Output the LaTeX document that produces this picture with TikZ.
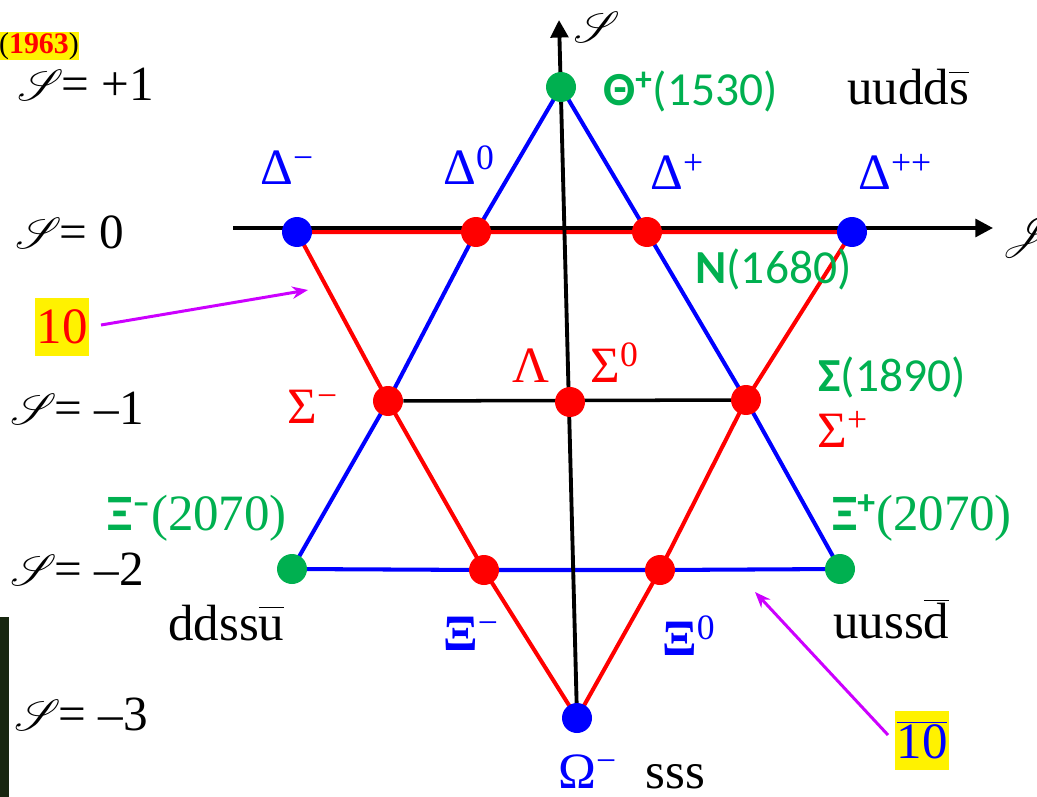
\documentclass[tikz,border=0pt]{standalone}
\usepackage{fontspec}
\setmainfont{Liberation Serif}
\newfontfamily\sansf{Carlito}
\usepackage{mathrsfs}
\usetikzlibrary{arrows.meta,backgrounds}
\definecolor{pgreen}{RGB}{0,176,80}
\definecolor{pmag}{RGB}{204,0,255}
\definecolor{stripc}{RGB}{24,38,16}
\newcommand\curS{\ensuremath{\mathscr{S}}\kern-1pt}
\newcommand\curJ{\ensuremath{\mathscr{J}_{z}}}
\newcommand\obar[1]{\ensuremath{\overline{\vphantom{d}\mbox{#1}}}}
\begin{document}
\begin{tikzpicture}[x=0.02cm,y=-0.02cm,
  every node/.style={inner sep=0pt},
  big/.style={font=\fontsize{29}{32}\selectfont},
  slab/.style={font=\fontsize{28}{32}\selectfont},
  gsans/.style={font=\sansf\fontsize{27}{30}\selectfont, text=pgreen},
  gmix/.style={font=\fontsize{29}{32}\selectfont, text=pgreen},
  dotR/.style={circle, fill=red, minimum size=0.6cm},
  dotB/.style={circle, fill=blue, minimum size=0.6cm},
  dotG/.style={circle, fill=pgreen, minimum size=0.6cm},
  bl/.style={blue, line width=2.3pt, line join=round},
  rd/.style={red, line width=2.3pt, line join=round},
  ax/.style={black, line width=2.2pt},
  axarrow/.style={ax, -{Triangle[length=10pt,width=10pt]}},
  mag/.style={pmag, line width=1.7pt, -{Stealth[length=9pt,width=7pt]}},
  ybox/.style={fill=yellow, minimum width=1.08cm, minimum height=1.18cm}
]
\useasboundingbox (0,0) rectangle (1037,797);
\fill[stripc] (0,617) rectangle (9,797);

% dots
\node[dotG] (th) at (561,87) {};
\node[dotB] (dm) at (297,232) {};
\node[dotR] (d0) at (476,232) {};
\node[dotR] (dp) at (647,232) {};
\node[dotB] (dpp) at (852,232) {};
\node[dotR] (sm) at (388,401) {};
\node[dotR] (l0) at (570,402) {};
\node[dotR] (sp) at (746,400) {};
\node[dotG] (xmg) at (292,569) {};
\node[dotR] (xm) at (484,570) {};
\node[dotR] (x0) at (660,570) {};
\node[dotG] (xpg) at (840,569) {};
\node[dotB] (om) at (577,718) {};

\coordinate (hl) at (233,228);
\coordinate (hr) at (993,228);
\coordinate (vt) at (559,20);

\begin{pgfonlayer}{background}
\draw[bl] (th.center) -- (d0.center) -- (sm.center) -- (xmg.center) -- (xm.center)
  -- (x0.center) -- (xpg.center) -- (sp.center) -- (dp.center) -- cycle;
\draw[rd] (dm.center) -- (d0.center) -- (dp.center) -- (dpp.center) -- (sp.center)
  -- (x0.center) -- (om.center) -- (xm.center) -- (sm.center) -- cycle;
\draw[axarrow] (hl) -- (hr);
\draw[axarrow] (om.center) -- (vt);
\draw[ax, line width=2pt] (sm) -- (sp.center);
\end{pgfonlayer}

% axis labels
\node[big] (slab) at (596,27) {\curS};
\node[big, anchor=base west] (jlab) at (1001,245) {\curJ};

% strangeness labels
\node[slab, anchor=base west] (s1) at (17,101) {\curS= +1};
\node[slab, anchor=base west] (s0) at (15,248) {\curS= 0};
\node[slab, anchor=base west] (sm1) at (10,424) {\curS= –1};
\node[slab, anchor=base west] (sm2) at (10,585) {\curS= –2};
\node[slab, anchor=base west] (sm3) at (14,730) {\curS= –3};

% year
\node[fill=yellow, minimum width=1.56cm, minimum height=0.56cm,
  font=\fontsize{17}{18}\selectfont] (yr) at (39,46) {(\textcolor{red}{\textbf{1963}})};

% green exotic labels
\node[gsans, anchor=base west] (thl) at (603,106) {\textbf{Θ}\textsuperscript{\textbf{+}}(1530)};
\node[gsans, anchor=base west] (nl) at (695,283) {\textbf{N}(1680)};
\node[gsans, anchor=base west] (s18) at (818,391) {\textbf{Σ}(1890)};
\node[gmix, anchor=base west] (xpl) at (832,530) {{\sansf\bfseries Ξ\textsuperscript{+}}(2070)};
\node[gmix, anchor=base west] (xml) at (107,530) {{\sansf\bfseries Ξ\textsuperscript{–}}(2070)};

% quark contents
\node[big, anchor=base west] (q1) at (847,105) {uudd\obar{s}};
\node[big, anchor=base west] (q2) at (168,640) {ddss\obar{u}};
\node[big, anchor=base west] (q3) at (833,638) {uuss\obar{d}};
\node[big, anchor=base west] (q4) at (645,788) {sss};

% decuplet / antidecuplet labels
\node[big, text=blue, anchor=base west] (ldm) at (260,185) {Δ\textsuperscript{−}};
\node[big, text=blue, anchor=base west] (ld0) at (443,185) {Δ\textsuperscript{0}};
\node[big, text=blue, anchor=base west] (ldp) at (650,190) {Δ\textsuperscript{+}};
\node[big, text=blue, anchor=base west] (ldpp) at (858,190) {Δ\textsuperscript{++}};
\node[big, text=red, anchor=base west] (lsm) at (287,423) {Σ\textsuperscript{−}};
\node[big, text=red, anchor=base west] (lla) at (512,382) {Λ};
\node[big, text=red, anchor=base west] (ls0) at (590,382) {Σ\textsuperscript{0}};
\node[big, text=red, anchor=base west] (lsp) at (817,447) {Σ\textsuperscript{+}};
\node[big, text=blue, anchor=base west] (lxm) at (443,650) {\textbf{Ξ}\textsuperscript{−}};
\node[big, text=blue, anchor=base west] (lx0) at (662,655) {\textbf{Ξ}\textsuperscript{0}};
\node[big, text=blue, anchor=base west] (lom) at (558,788) {Ω\textsuperscript{−}};

% multiplet boxes and arrows
\node[ybox, big, text=red] (ten) at (62,327) {10};
\node[ybox, big, text=blue] (tenb) at (922,740) {\obar{10}};
\coordinate (a1s) at (101,325);
\coordinate (a1e) at (308,290);
\coordinate (a2s) at (888,735);
\coordinate (a2e) at (755,592);
\draw[mag] (a1s) -- (a1e);
\draw[mag] (a2s) -- (a2e);
\end{tikzpicture}
\end{document}
